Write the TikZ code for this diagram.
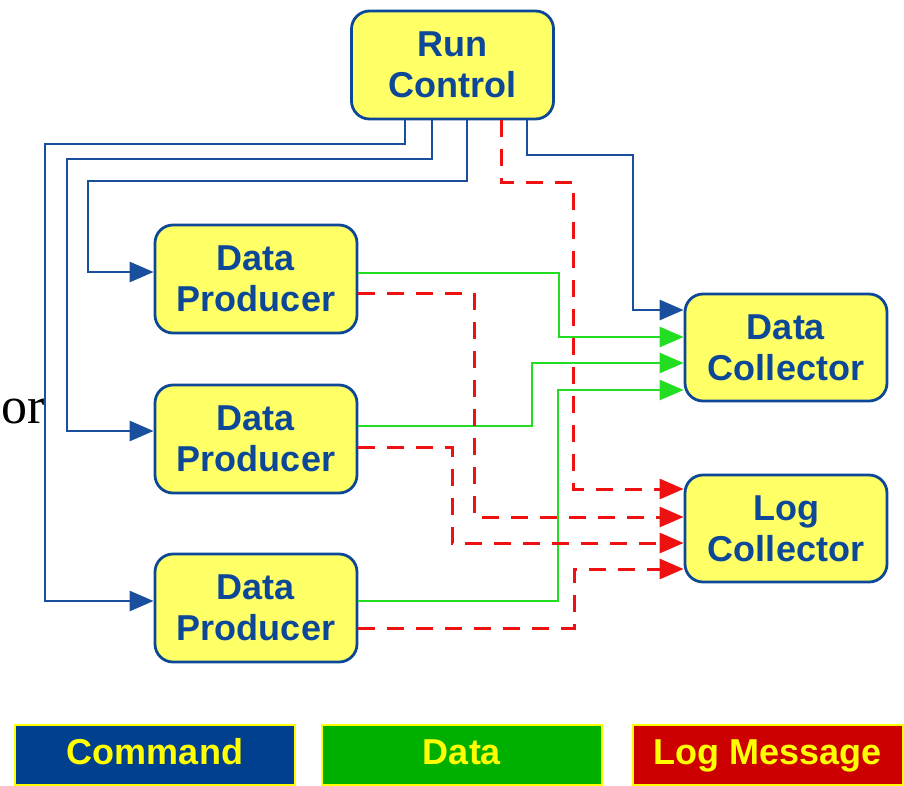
\documentclass[tikz,border=0pt]{standalone}
\usepackage{fontspec}
\setmainfont{Liberation Serif}
\newfontfamily\boxfont{Liberation Sans}
\usetikzlibrary{arrows.meta}
\definecolor{cmdblue}{HTML}{1A4F9E}
\definecolor{boxblue}{HTML}{0D4797}
\definecolor{boxyellow}{HTML}{FFFF66}
\definecolor{datagreen}{HTML}{22DD22}
\definecolor{logred}{HTML}{EE1111}
\definecolor{legblue}{HTML}{00408F}
\definecolor{leggreen}{HTML}{00B000}
\definecolor{legred}{HTML}{CC0000}
\definecolor{legyellow}{HTML}{FFFF00}
\begin{document}
\begin{tikzpicture}[x=1pt,y=-1pt,
  blk/.style={draw=boxblue, line width=2.8pt, fill=boxyellow, rounded corners=18pt,
    minimum width=202pt, minimum height=108pt, inner sep=0pt, align=center,
    text=boxblue, font=\boxfont\bfseries\fontsize{36}{41}\selectfont},
  tip/.style={-{Triangle[length=24pt,width=20pt]}},
  cmd/.style={tip, draw=cmdblue, line width=2.8pt},
  dat/.style={tip, draw=datagreen, line width=2.8pt},
  logm/.style={tip, draw=logred, line width=3pt, dash pattern=on 17pt off 12pt},
  leg/.style={draw=legyellow, line width=1.5pt, minimum height=60pt, inner sep=0pt,
    text height=26pt, text depth=7pt,
    text=legyellow, font=\boxfont\bfseries\fontsize{36}{41}\selectfont}
]
\useasboundingbox (0,0) rectangle (904,785);

\node[blk] (rc) at (452.5,65) {Run\\Control};
\node[blk] (dp1) at (256,279) {Data\\Producer};
\node[blk] (dp2) at (256,439) {Data\\Producer};
\node[blk] (dp3) at (256,608) {Data\\Producer};
\node[blk, minimum height=107pt] (dc) at (786,347.5) {Data\\Collector};
\node[blk, minimum height=107pt] (lc) at (786,528.5) {Log\\Collector};

\node[anchor=base west, inner sep=0pt, font=\fontsize{52}{56}\selectfont] (ortext) at (1,423) {or};

% commands
\draw[cmd] (rc.south -| 405,0) |- (45,144) |- (dp3.west |- 0,601);
\draw[cmd] (rc.south -| 432,0) |- (67,159) |- (dp2.west |- 0,431);
\draw[cmd] (rc.south -| 467,0) |- (88,181) |- (dp1.west |- 0,272);
\draw[cmd] (rc.south -| 527,0) |- (633,155) |- (dc.west |- 0,310);

% data
\draw[dat] (dp1.east |- 0,273) -| (559,337) -- (dc.west |- 0,337);
\draw[dat] (dp2.east |- 0,426) -| (532,363) -- (dc.west |- 0,363);
\draw[dat] (dp3.east |- 0,601) -| (558,390) -- (dc.west |- 0,390);

% log messages
\draw[logm] (rc.south -| 501,0) |- (573,182) |- (lc.west |- 0,489);
\draw[logm] (dp1.east |- 0,293) -| (474,517) -- (lc.west |- 0,517);
\draw[logm] (dp2.east |- 0,447) -| (452,543) -- (lc.west |- 0,543);
\draw[logm] (dp3.east |- 0,628) -| (574,569) -- (lc.west |- 0,569);

% legend
\node[leg, fill=legblue, minimum width=280pt] (lgcmd) at (155,755) {Command};
\node[leg, fill=leggreen, minimum width=280pt] (lgdat) at (462,755) {Data};
\node[leg, fill=legred, minimum width=270pt] (lglog) at (768,755) {Log Message};
\end{tikzpicture}
\end{document}
